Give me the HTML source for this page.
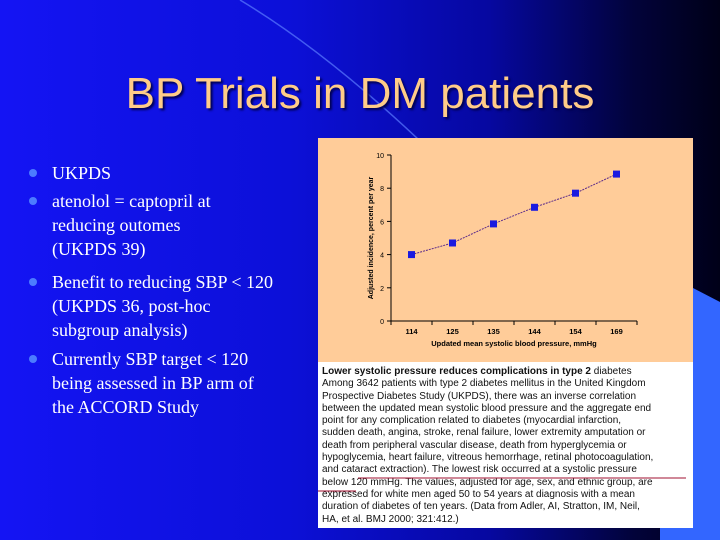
<!DOCTYPE html>
<html><head><meta charset="utf-8"><style>
body{margin:0;width:720px;height:540px;overflow:hidden;font-family:"Liberation Sans",sans-serif}
#slide{position:relative;width:720px;height:540px;background:linear-gradient(90deg,#1414f4 0%,#0c10d8 40%,#0608a0 68%,#02033a 88%,#000018 100%)}
.title{position:absolute;left:0;width:720px;top:69px;text-align:center;font-size:44px;color:#ffcc88;text-shadow:2px 2px 2px #000050}
.bul{position:absolute;left:52px;font-family:"Liberation Serif",serif;font-size:18px;color:#fff;line-height:24px;width:250px}
.dot{position:absolute;left:-23px;top:8px;width:8px;height:8px;border-radius:50%;background:#4c7cff}
#panel{position:absolute;left:318px;top:138px;width:375px;height:390px;background:#ffcc99}
#cap{position:absolute;left:0;top:224px;width:375px;height:166px;background:#fff;font-size:10px;line-height:12.3px;color:#111;padding:4px 0 0 4px;box-sizing:border-box;white-space:nowrap;overflow:hidden}
</style></head><body>
<div id="slide">
<svg width="720" height="540" style="position:absolute;left:0;top:0">
<path d="M240,0 Q340,60 455,175" stroke="#5b7cff" stroke-width="1.5" fill="none" opacity="0.7"/>
<polygon points="693,288 720,302 720,540 660,540 660,528 693,528" fill="#3366ff"/>
</svg>
<div class="title">BP Trials in DM patients</div>
<div class="bul" style="top:161px"><span class="dot"></span>UKPDS</div>
<div class="bul" style="top:189px"><span class="dot"></span>atenolol = captopril at<br>reducing outomes<br>(UKPDS 39)</div>
<div class="bul" style="top:270px"><span class="dot"></span>Benefit to reducing SBP &lt; 120<br>(UKPDS 36, post-hoc<br>subgroup analysis)</div>
<div class="bul" style="top:347px"><span class="dot"></span>Currently SBP target &lt; 120<br>being assessed in BP arm of<br>the ACCORD Study</div>
<div id="panel">
<svg id="chart" width="375" height="224" style="position:absolute;left:0;top:0"></svg>
<div id="cap"><b>Lower systolic pressure reduces complications in type 2</b> diabetes<br>Among 3642 patients with type 2 diabetes mellitus in the United Kingdom<br>Prospective Diabetes Study (UKPDS), there was an inverse correlation<br>between the updated mean systolic blood pressure and the aggregate end<br>point for any complication related to diabetes (myocardial infarction,<br>sudden death, angina, stroke, renal failure, lower extremity amputation or<br>death from peripheral vascular disease, death from hyperglycemia or<br>hypoglycemia, heart failure, vitreous hemorrhage, retinal photocoagulation,<br>and cataract extraction). The lowest risk occurred at a systolic pressure<br>below 120 mmHg. The values, adjusted for age, sex, and ethnic group, are<br>expressed for white men aged 50 to 54 years at diagnosis with a mean<br>duration of diabetes of ten years. (Data from Adler, AI, Stratton, IM, Neil,<br>HA, et al. BMJ 2000; 321:412.)
<svg width="375" height="166" style="position:absolute;left:0;top:0"><line x1="40" y1="116" x2="368" y2="116" stroke="#a01030" stroke-width="1"/><line x1="0" y1="129" x2="38" y2="129" stroke="#a01030" stroke-width="1"/></svg>
</div>
</div>
</div>
<script>
const categories=["114","125","135","144","154","169"];
const values=[4.0,4.7,5.85,6.85,7.7,8.85];
const yTicks=[0,2,4,6,8,10];
const NS="http://www.w3.org/2000/svg";
const svg=document.getElementById('chart');
const x0=73,x1=319,y0=183,y1=17;
const band=(x1-x0)/categories.length;
const X=i=>x0+band*(i+0.5);
const Y=v=>y0-(v/10)*(y0-y1);
function mk(t,a,txt){const e=document.createElementNS(NS,t);for(const k in a)e.setAttribute(k,a[k]);if(txt!==undefined)e.textContent=txt;svg.appendChild(e);return e;}
let e=mk('line',{x1:x0,y1:y1,x2:x0,y2:y0,stroke:'#000','stroke-width':1});


e=mk('line',{x1:x0,y1:y0,x2:x1,y2:y0,stroke:'#000','stroke-width':1});


yTicks.forEach(v=>{
 mk('line',{x1:x0-4,y1:Y(v),x2:x0,y2:Y(v),stroke:'#000'});
 e=mk('text',{x:x0-7,y:Y(v)+3,'font-size':7,'text-anchor':'end',fill:'#000'},v);
 
 
});
for(let i=0;i<=categories.length;i++)mk('line',{x1:x0+band*i,y1:y0,x2:x0+band*i,y2:y0+4,stroke:'#000'});
categories.forEach((c,i)=>{
 e=mk('text',{x:X(i),y:y0+13,'font-size':7.5,'font-weight':'bold','text-anchor':'middle',fill:'#000'},c);
 
 
});
e=mk('text',{x:(x0+x1)/2,y:y0+25,'font-size':7.5,'font-weight':'bold','text-anchor':'middle',fill:'#000'},'Updated mean systolic blood pressure, mmHg');


e=mk('text',{x:0,y:0,'font-size':7,'font-weight':'bold','text-anchor':'middle',fill:'#000',transform:`translate(55,${(y0+y1)/2}) rotate(-90)`},'Adjusted incidence, percent per year');


e=mk('polyline',{points:values.map((v,i)=>X(i)+','+Y(v)).join(' '),fill:'none',stroke:'#5a2a8a','stroke-width':1,'stroke-dasharray':'2,1'});


values.forEach((v,i)=>{
 e=mk('rect',{x:X(i)-3.5,y:Y(v)-3.5,width:7,height:7,fill:'#1a1ae0'});
 
 
});
</script>
</body></html>
